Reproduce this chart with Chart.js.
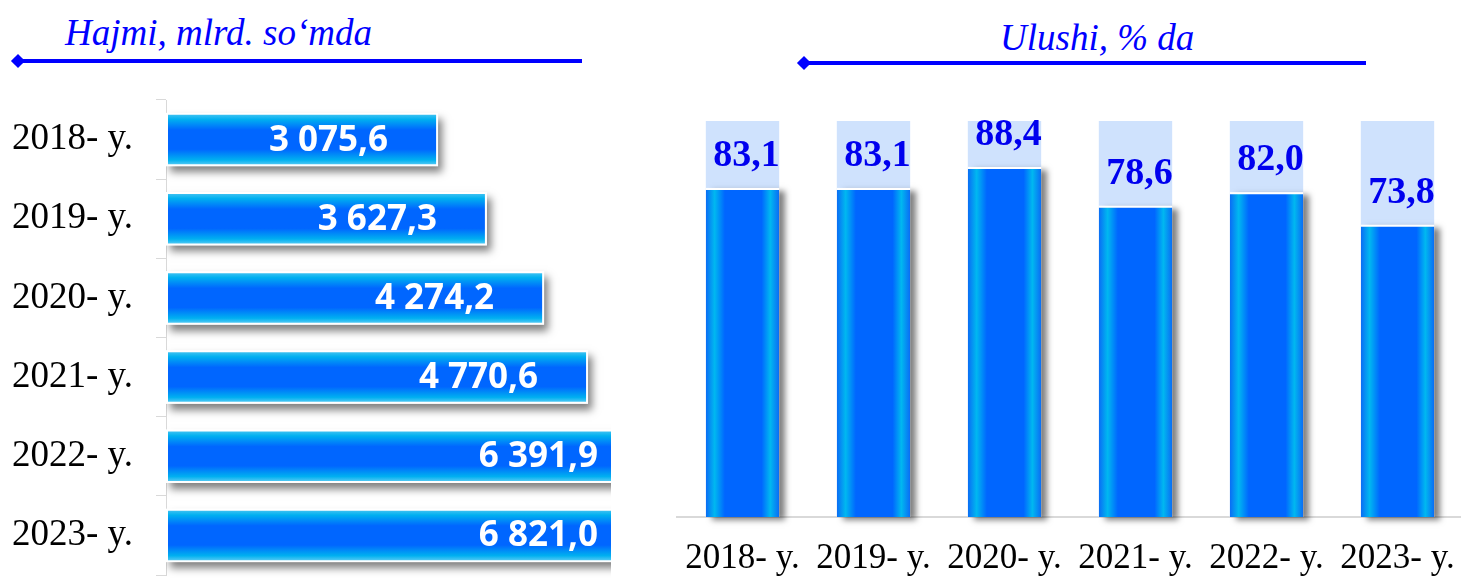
<!DOCTYPE html>
<html>
<head>
<meta charset="utf-8">
<script src="https://cdn.jsdelivr.net/npm/chart.js@4/dist/chart.umd.min.js"></script>
<style>
    body { margin: 0; background: #fff; }
    #page { position: relative; width: 1461px; height: 578px; overflow: hidden; }
    canvas { position: absolute; top: 0; }
    .title { position: absolute; font-family: "Liberation Serif", serif; font-style: italic; font-size: 37px; line-height: 37px; color: #0000ff; white-space: nowrap; }
    .rule { position: absolute; height: 4px; background: #0000ff; }
    .diamond { position: absolute; width: 10px; height: 10px; background: #0000ff; transform: rotate(45deg); }
</style>
</head>
<body>
<div id="page">
    <div class="title" style="left:65px; top:14px;">Hajmi, mlrd. so‘mda</div>
    <div class="rule" style="left:18px; top:59px; width:564px;"></div>
    <div class="diamond" style="left:13px; top:56px;"></div>

    <div class="title" style="left:1000px; top:19px;">Ulushi, % da</div>
    <div class="rule" style="left:804px; top:61px; width:562px;"></div>
    <div class="diamond" style="left:799px; top:58px;"></div>

    <canvas id="left" width="640" height="578" style="left:0;"></canvas>
    <canvas id="right" width="813" height="578" style="left:650px;"></canvas>
</div>
<script>
// data
var years = ["2018- y.", "2019- y.", "2020- y.", "2021- y.", "2022- y.", "2023- y."];
var volumes = [3075.6, 3627.3, 4274.2, 4770.6, 6391.9, 6821.0];   // mlrd. so'm
var shares = [83.1, 83.1, 88.4, 78.6, 82.0, 73.8];                // %
var background = [100, 100, 100, 100, 100, 100];

var serif = "'Liberation Serif', 'Times New Roman', serif";

function fmtVolume(v) {
    var parts = v.toFixed(1).split(".");
    return parts[0].replace(/\B(?=(\d{3})+(?!\d))/g, " ") + "," + parts[1];
}
function fmtShare(v) {
    return v.toFixed(1).replace(".", ",");
}

// horizontal bars: gradient across the bar height
function leftFill(c) {
    var chart = c.chart;
    if (!chart.chartArea) return "#0066ff";
    var band = chart.chartArea.height / years.length;
    var half = band * 0.675 / 2;
    var y = chart.scales.y.getPixelForValue(c.dataIndex);
    var g = chart.ctx.createLinearGradient(0, y - half, 0, y + half);
    g.addColorStop(0, "#55c8f2");
    g.addColorStop(0.12, "#00b0f0");
    g.addColorStop(0.32, "#0066ff");
    g.addColorStop(0.68, "#0066ff");
    g.addColorStop(0.88, "#00b0f0");
    g.addColorStop(1, "#6fd2f5");
    return g;
}

// vertical bars: gradient across the bar width
function rightFill(c) {
    var chart = c.chart;
    if (!chart.chartArea) return "#0066ff";
    var band = chart.chartArea.width / years.length;
    var half = band * 0.56 / 2;
    var x = chart.scales.x.getPixelForValue(c.dataIndex);
    var g = chart.ctx.createLinearGradient(x - half, 0, x + half, 0);
    g.addColorStop(0, "#0a6cf5");
    g.addColorStop(0.12, "#00b8f0");
    g.addColorStop(0.26, "#0066ff");
    g.addColorStop(0.76, "#0066ff");
    g.addColorStop(0.88, "#00b8f0");
    g.addColorStop(1, "#0a6cf5");
    return g;
}

// soft drop shadow behind the bars of one dataset
var shadowPlugin = {
    id: "barShadow",
    beforeDatasetDraw: function(chart, args, opts) {
        if (args.index !== opts.index) return;
        var ctx = chart.ctx, area = chart.chartArea;
        ctx.save();
        ctx.beginPath();
        ctx.rect(area.left, 0, area.right - area.left, chart.height);
        ctx.clip();
        ctx.shadowColor = "rgba(0,0,0,0.5)";
        ctx.shadowBlur = opts.blur;
        ctx.shadowOffsetX = opts.dx;
        ctx.shadowOffsetY = opts.dy;
        ctx.fillStyle = "#ffffff";
        args.meta.data.forEach(function(el) {
            var p = el.getProps(["x", "y", "base", "width", "height"], true);
            if (chart.options.indexAxis === "y") {
                ctx.fillRect(p.base, p.y - p.height / 2, p.x - p.base, p.height);
            } else {
                ctx.fillRect(p.x - p.width / 2, p.y, p.width, p.base - p.y);
            }
        });
        ctx.restore();
    }
};

var leftLabels = {
    id: "leftLabels",
    afterDatasetsDraw: function(chart) {
        var ctx = chart.ctx, area = chart.chartArea;
        ctx.save();
        ctx.font = "bold 35px 'Open Sans', sans-serif";
        ctx.fillStyle = "#ffffff";
        ctx.textAlign = "right";
        ctx.textBaseline = "middle";
        chart.getDatasetMeta(0).data.forEach(function(el, i) {
            var end = el.x;
            var x = end > area.right ? area.right - 13 : end - 50;
            ctx.fillText(fmtVolume(volumes[i]), x, el.y + 1);
        });
        ctx.restore();
    }
};

var rightLabels = {
    id: "rightLabels",
    afterDatasetsDraw: function(chart) {
        var ctx = chart.ctx;
        ctx.save();
        ctx.font = "bold 38px " + serif;
        ctx.fillStyle = "#0000ee";
        ctx.textAlign = "center";
        ctx.textBaseline = "middle";
        chart.getDatasetMeta(0).data.forEach(function(el, i) {
            ctx.fillText(fmtShare(shares[i]), el.x + 4, el.y - 32);
        });
        ctx.restore();
    }
};

new Chart(document.getElementById("left").getContext("2d"), {
    type: "bar",
    data: {
        labels: years,
        datasets: [{
            data: volumes,
            backgroundColor: leftFill,
            borderColor: "#ffffff",
            borderWidth: 2,
            borderSkipped: false,
            barPercentage: 0.9,
            categoryPercentage: 0.75
        }]
    },
    options: {
        indexAxis: "y",
        responsive: false,
        animation: false,
        layout: { padding: { left: 12, top: 100, bottom: 3, right: 29 } },
        plugins: {
            legend: { display: false },
            tooltip: { enabled: false },
            barShadow: { index: 0, blur: 8, dx: 4, dy: 6 }
        },
        scales: {
            x: { display: false, min: 0, max: 5030 },
            y: {
                grid: { offset: true, drawOnChartArea: false, tickLength: 10, color: "#d9d9d9" },
                border: { color: "#d9d9d9" },
                ticks: { crossAlign: "far", padding: 24, color: "#000", font: { family: serif, size: 37 } },
                afterFit: function(s) {
                    s.width = 154;
                    s.paddingTop = 0;
                    s.paddingBottom = 0;
                }
            }
        }
    },
    plugins: [shadowPlugin, leftLabels]
});

new Chart(document.getElementById("right").getContext("2d"), {
    type: "bar",
    data: {
        labels: years,
        datasets: [{
            data: shares,
            backgroundColor: rightFill,
            borderColor: "#ffffff",
            borderWidth: { top: 2, left: 0, right: 0, bottom: 0 },
            grouped: false,
            barPercentage: 0.7,
            categoryPercentage: 0.8
        }, {
            data: background,
            backgroundColor: "#cfe2fd",
            borderWidth: 0,
            grouped: false,
            barPercentage: 0.7,
            categoryPercentage: 0.8
        }]
    },
    options: {
        responsive: false,
        animation: false,
        layout: { padding: { left: 27, top: 121, bottom: 0, right: 0 } },
        plugins: {
            legend: { display: false },
            tooltip: { enabled: false },
            barShadow: { index: 0, blur: 6, dx: 6, dy: 3 }
        },
        scales: {
            y: { display: false, min: 0, max: 100 },
            x: {
                grid: { display: false, drawTicks: false },
                border: { display: true, color: "#d9d9d9", width: 2 },
                ticks: { padding: 21, color: "#000", autoSkip: false, maxRotation: 0, font: { family: serif, size: 35 } },
                afterFit: function(s) {
                    s.height = 61;
                    s.paddingLeft = 0;
                    s.paddingRight = 0;
                }
            }
        }
    },
    plugins: [shadowPlugin, rightLabels]
});
</script>
</body>
</html>
